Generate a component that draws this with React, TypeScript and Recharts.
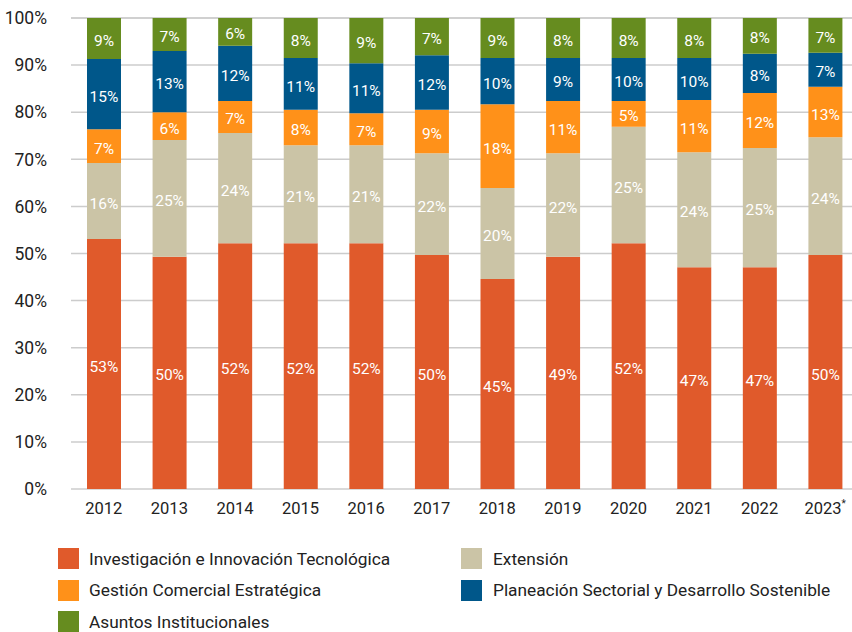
import { BarChart, Bar, XAxis, YAxis, CartesianGrid, LabelList } from "recharts"

const years = ["2012", "2013", "2014", "2015", "2016", "2017", "2018", "2019", "2020", "2021", "2022", "2023"]

// share of each area per year (%)
const investigacion = [53.1, 49.3, 52.2, 52.2, 52.2, 49.7, 44.6, 49.3, 52.2, 47.1, 47.1, 49.7]
const extension = [16.1, 24.8, 23.4, 20.8, 20.8, 21.6, 19.3, 22.0, 24.7, 24.4, 25.3, 25.0]
const gestion = [7.2, 5.9, 6.8, 7.5, 6.8, 9.2, 17.8, 11.1, 5.5, 11.1, 11.7, 10.7]
const planeacion = [14.9, 13.0, 11.7, 11.0, 10.6, 11.6, 9.8, 9.1, 9.1, 8.9, 8.3, 7.2]
const asuntos = [8.7, 7.0, 5.9, 8.5, 9.6, 7.9, 8.5, 8.5, 8.5, 8.5, 7.6, 7.4]

// printed labels inside the bars
const investigacionLbl = [53, 50, 52, 52, 52, 50, 45, 49, 52, 47, 47, 50]
const extensionLbl = [16, 25, 24, 21, 21, 22, 20, 22, 25, 24, 25, 24]
const gestionLbl = [7, 6, 7, 8, 7, 9, 18, 11, 5, 11, 12, 13]
const planeacionLbl = [15, 13, 12, 11, 11, 12, 10, 9, 10, 10, 8, 7]
const asuntosLbl = [9, 7, 6, 8, 9, 7, 9, 8, 8, 8, 8, 7]

const yTicks = [0, 10, 20, 30, 40, 50, 60, 70, 80, 90, 100]

const series = [
  { key: "inv", name: "Investigación e Innovación Tecnológica", color: "#E05A2B", values: investigacion, labels: investigacionLbl },
  { key: "ext", name: "Extensión", color: "#CBC4A6", values: extension, labels: extensionLbl },
  { key: "ges", name: "Gestión Comercial Estratégica", color: "#FF9119", values: gestion, labels: gestionLbl },
  { key: "pla", name: "Planeación Sectorial y Desarrollo Sostenible", color: "#00578A", values: planeacion, labels: planeacionLbl },
  { key: "asu", name: "Asuntos Institucionales", color: "#668C1F", values: asuntos, labels: asuntosLbl },
]

const data = years.map((year, i) => {
  const row: Record<string, any> = { year }
  series.forEach((s) => (row[s.key] = s.values[i]))
  return row
})

const FONT = "Roboto, 'Noto Sans', sans-serif"

const makeLabel = (labels: number[]) => (props: any) => {
  const { x, y, width, height, index } = props
  return (
    <text
      x={x + width / 2}
      y={y + height / 2 + 2}
      dy="0.36em"
      textAnchor="middle"
      fill="#fff"
      fontSize={15.5}
      fontFamily={FONT}
    >
      {labels[index]}%
    </text>
  )
}

const YearTick = (props: any) => {
  const { x, y, payload } = props
  const star = payload.value === "2023"
  return (
    <text x={x} y={y + 25} textAnchor="middle" fill="#222" fontSize={16.5} fontFamily={FONT}>
      {payload.value}
      {star && (
        <tspan fontSize={10} dy={-7}>
          *
        </tspan>
      )}
    </text>
  )
}

const legendRows = [
  [series[0], series[1]],
  [series[2], series[3]],
  [series[4]],
]

export default function App() {
  return (
    <div style={{ position: "absolute", left: 0, top: 0, width: 852, height: 632, overflow: "hidden", background: "#fff" }}>
      <BarChart
        width={870}
        height={632}
        data={data}
        margin={{ top: 18, right: 12, left: 0, bottom: 113 }}
      >
        <CartesianGrid vertical={false} stroke="#cccccc" strokeWidth={1.5} />
        <XAxis
          dataKey="year"
          axisLine={false}
          tickLine={false}
          tickSize={0}
          tickMargin={0}
          height={30}
          tick={<YearTick />}
          interval={0}
        />
        <YAxis
          domain={[0, 100]}
          ticks={yTicks}
          width={71}
          axisLine={false}
          tickLine={false}
          tickSize={0}
          tickMargin={24}
          tickFormatter={(v) => `${v}%`}
          tick={{ fill: "#222", fontSize: 17.5, fontFamily: FONT }}
        />
        {series.map((s) => (
          <Bar key={s.key} dataKey={s.key} stackId="a" fill={s.color} barSize={34} isAnimationActive={false}>
            <LabelList dataKey={s.key} content={makeLabel(s.labels)} />
          </Bar>
        ))}
      </BarChart>
      <div style={{ position: "absolute", left: 58, top: 548, fontFamily: FONT, fontSize: 17.3, color: "#222" }}>
        {legendRows.map((row, r) => (
          <div key={r} style={{ display: "flex", height: 31.5 }}>
            {row.map((s, c) => (
              <div key={s.key} style={{ display: "flex", alignItems: "center", width: c === 0 ? 403 : 400, height: 21 }}>
                <span style={{ width: 21, height: 21, background: s.color, display: "inline-block", marginRight: c === 0 ? 10 : 11 }} />
                <span>{s.name}</span>
              </div>
            ))}
          </div>
        ))}
      </div>
    </div>
  )
}
